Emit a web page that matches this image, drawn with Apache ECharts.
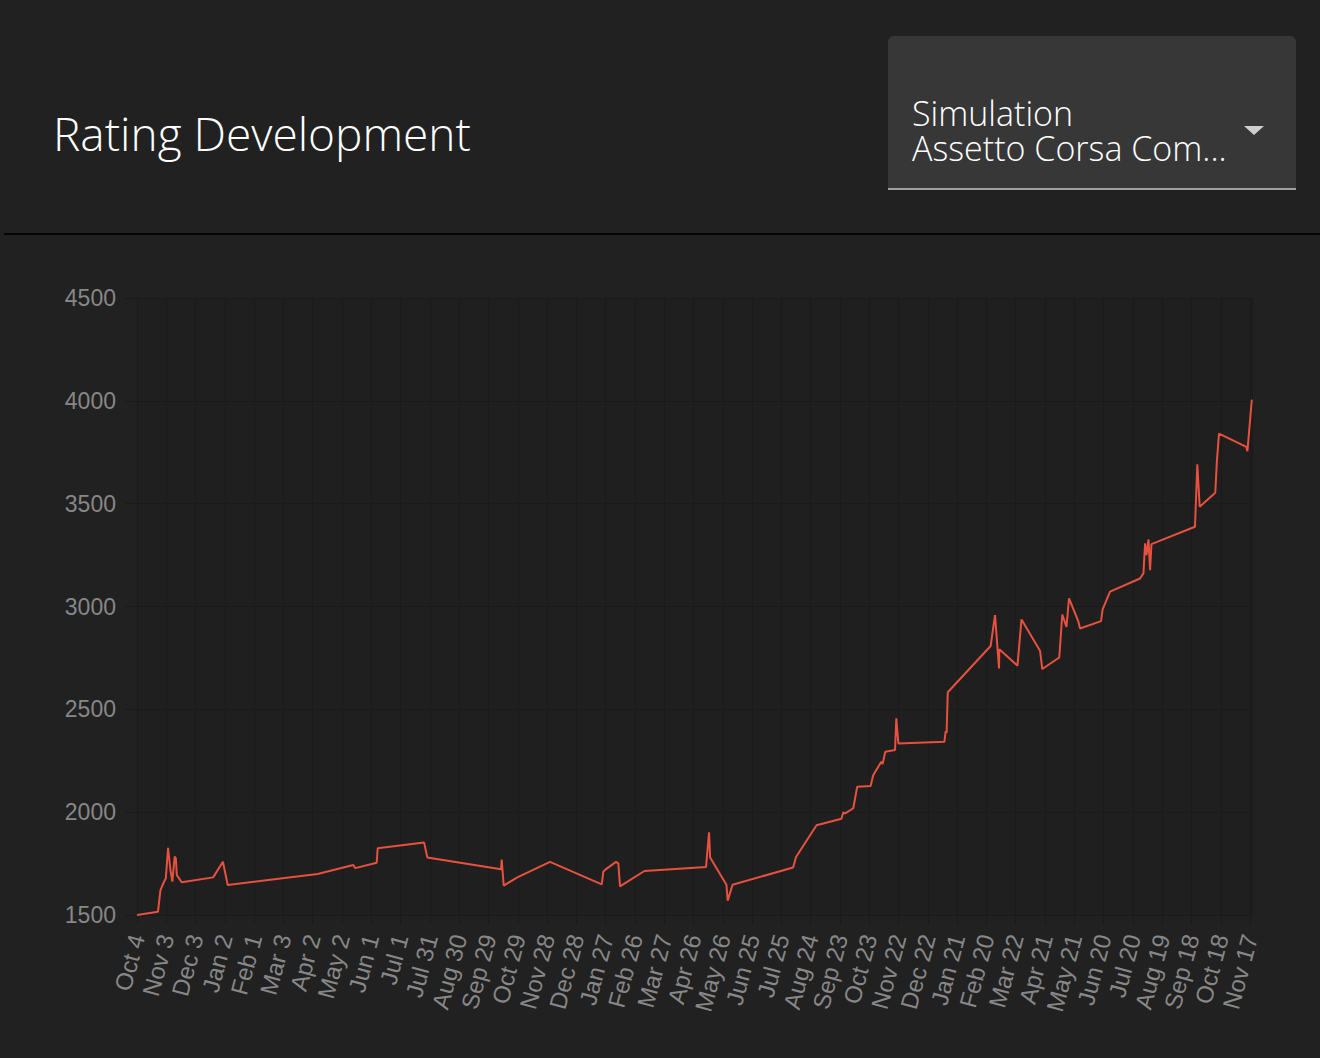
<!doctype html>
<html>
<head>
    <meta http-equiv="Content-Type" content="text/html; charset=utf-8" />
    <title>Rating Development</title>
    <script src="https://cdn.jsdelivr.net/npm/echarts@6/dist/echarts.min.js"></script>
    <style>
        html, body { margin: 0; padding: 0; background: #212121; }
        #main { width: 1320px; height: 1058px; }
    </style>
</head>
<body>
<div id="main"></div>
<script type="text/javascript">
    // x = days since Oct 4, one label every 30 days
    var tickLabels = ['Oct 4', 'Nov 3', 'Dec 3', 'Jan 2', 'Feb 1', 'Mar 3', 'Apr 2', 'May 2', 'Jun 1', 'Jul 1',
        'Jul 31', 'Aug 30', 'Sep 29', 'Oct 29', 'Nov 28', 'Dec 28', 'Jan 27', 'Feb 26', 'Mar 27', 'Apr 26',
        'May 26', 'Jun 25', 'Jul 25', 'Aug 24', 'Sep 23', 'Oct 23', 'Nov 22', 'Dec 22', 'Jan 21', 'Feb 20',
        'Mar 22', 'Apr 21', 'May 21', 'Jun 20', 'Jul 20', 'Aug 19', 'Sep 18', 'Oct 18', 'Nov 17'];

    var days = [0, 21.5, 24, 27.5, 29.5, 31.8, 34.2, 36.2, 38.6, 39.8, 40.8, 45.8, 78, 88, 92.9,
        185, 221.5, 223.6, 245.5, 246.5, 294, 297.4, 372.8, 373.5, 375.6, 389.5, 423,
        476, 477.6, 480, 490.6, 493, 494.7, 519.7, 582.8, 585.9, 587, 603.7, 605, 610,
        672, 675, 696, 721.5, 723.4, 725.4, 733.6, 737.7, 751.4, 754, 762.3, 763.7, 766.4,
        776.4, 777.7, 779.8, 826.9, 828.3, 829.2, 830.4, 874.3, 878.8, 882.9, 883.2, 901.8,
        905.9, 924.9, 927.2, 944.6, 947.7, 952, 954.6, 964, 965.9, 987.4, 989, 996.6,
        1027.3, 1030.8, 1032.5, 1034, 1036, 1037.6, 1039, 1083.6, 1086, 1088.4, 1104.4,
        1106, 1108.2, 1136.2, 1137.3, 1139, 1141.8];

    var ratings = [1500, 1516, 1621, 1660, 1677, 1827, 1720, 1662, 1784, 1776, 1694, 1659, 1683, 1759, 1646,
        1699, 1743, 1728, 1754, 1824, 1853, 1780, 1722, 1770, 1643, 1683, 1758,
        1649, 1710, 1722, 1758, 1751, 1639, 1714, 1733, 1902, 1780, 1647, 1570, 1647,
        1731, 1782, 1936, 1968, 1999, 1994, 2019, 2124, 2127, 2179, 2245, 2234, 2294,
        2302, 2456, 2334, 2342, 2394, 2385, 2583, 2808, 2958, 2699, 2792, 2712,
        2937, 2785, 2696, 2752, 2961, 2901, 3040, 2929, 2893, 2929, 2986, 3072,
        3136, 3161, 3307, 3250, 3326, 3177, 3303, 3388, 3691, 3485, 3553,
        3704, 3841, 3776, 3755, 3849, 4006];

    var yTicks = [1500, 2000, 2500, 3000, 3500, 4000, 4500];

    var points = days.map(function (d, i) {
        return [d, ratings[i]];
    });

    var gridColor = '#1a1a1a';
    var labelColor = '#878787';

    var myChart = echarts.init(document.getElementById('main'), null, { renderer: 'svg' });

    var option = {
        backgroundColor: '#212121',
        animation: false,
        graphic: [
            // header
            {
                type: 'text',
                left: 53,
                top: 110,
                style: {
                    text: 'Rating Development',
                    fill: '#ffffff',
                    font: '300 46px "Open Sans"'
                }
            },
            {
                type: 'rect',
                shape: { x: 888, y: 36, width: 408, height: 153, r: [6, 6, 0, 0] },
                style: { fill: '#373737' }
            },
            {
                type: 'rect',
                shape: { x: 888, y: 188, width: 408, height: 2 },
                style: { fill: '#a0a0a0' }
            },
            {
                type: 'text',
                left: 912,
                top: 95,
                style: {
                    text: 'Simulation\nAssetto Corsa Com...',
                    fill: '#ffffff',
                    font: '300 34px "Open Sans"',
                    lineHeight: 35
                }
            },
            {
                type: 'polygon',
                shape: { points: [[1244, 126], [1264, 126], [1254, 135]] },
                style: { fill: '#cfcfcf' }
            },
            {
                type: 'rect',
                shape: { x: 4, y: 233, width: 1316, height: 2 },
                style: { fill: '#050505' }
            }
        ],
        grid: {
            left: 137,
            right: 68,
            top: 298,
            bottom: 143,
            show: true,
            backgroundColor: '#1f1f1f',
            borderWidth: 0
        },
        xAxis: {
            type: 'value',
            min: 0,
            max: 1142,
            interval: 30,
            axisLine: { show: true, lineStyle: { color: gridColor, width: 1 } },
            axisTick: { show: true, length: 9, lineStyle: { color: gridColor } },
            splitLine: { show: true, lineStyle: { color: gridColor, width: 1 } },
            axisLabel: {
                showMaxLabel: false,
                rotate: 75,
                margin: 20,
                color: labelColor,
                fontSize: 24,
                fontFamily: '"Liberation Sans", Arial, sans-serif',
                formatter: function (v) {
                    var idx = Math.round(v / 30);
                    return (v % 30 === 0 && tickLabels[idx]) ? tickLabels[idx] : '';
                }
            }
        },
        yAxis: {
            type: 'value',
            min: yTicks[0],
            max: yTicks[yTicks.length - 1],
            interval: 500,
            axisLine: { show: true, lineStyle: { color: gridColor, width: 1 } },
            axisTick: { show: true, length: 12, lineStyle: { color: gridColor } },
            splitLine: { show: true, lineStyle: { color: gridColor, width: 1 } },
            axisLabel: {
                margin: 21,
                color: labelColor,
                fontSize: 23,
                fontFamily: '"Liberation Sans", Arial, sans-serif',
                formatter: function (v) {
                    return String(v);
                }
            }
        },
        series: [{
            type: 'line',
            data: points,
            showSymbol: false,
            smooth: false,
            lineStyle: { color: '#e8513f', width: 2 },
            itemStyle: { color: '#e8513f' }
        }]
    };

    myChart.setOption(option);
</script>
</body>
</html>
